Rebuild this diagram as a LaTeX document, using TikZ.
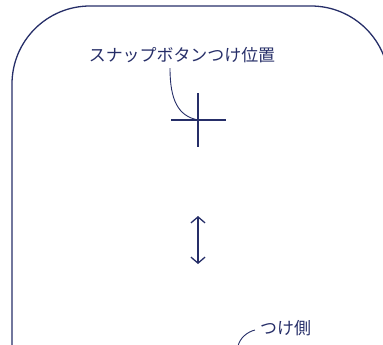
\documentclass[tikz,border=0pt]{standalone}
\usepackage{fontspec}
\newfontfamily\jpfont{Noto Sans CJK JP}
\usepackage{tikz}
\usetikzlibrary{arrows.meta,positioning}
\definecolor{navy}{RGB}{38,46,104}

\begin{document}
\begin{tikzpicture}[x=1bp,y=-1bp]
\tikzstyle{every node}=[text=navy, font=\jpfont\fontsize{17}{18}\selectfont,
                        inner sep=0pt]
\tikzstyle{line}=[draw=navy, line width=1.3bp]
\tikzstyle{leader}=[draw=navy, line width=0.9bp]
\useasboundingbox (0,0) rectangle (383,345);
% outline of the part
\draw[line, rounded corners=78bp] (12,380) -- (12,6) -- (389,6) -- (389,380);
% snap button mark
\coordinate (c) at (198,120);
\draw[line] (171,120) -- (226,120);
\draw[line] (198,93) -- (198,147);
\node (snap) at (182,55) {スナップボタンつけ位置};
\draw[leader] (170,68) .. controls (170,100) and (178,116) .. (c);
% direction arrow
\coordinate (top) at (198,216);
\coordinate (bot) at (198,264);
\draw[line, {Straight Barb[length=6bp,width=14bp]}-{Straight Barb[length=6bp,width=14bp]}] (top) -- (bot);
% side label
\node[anchor=west] (side) at (260,328) {つけ側};
\coordinate (e) at (238,346);
\draw[leader] (255,330) .. controls (247,332) and (240,338) .. (e);
\end{tikzpicture}
\end{document}
